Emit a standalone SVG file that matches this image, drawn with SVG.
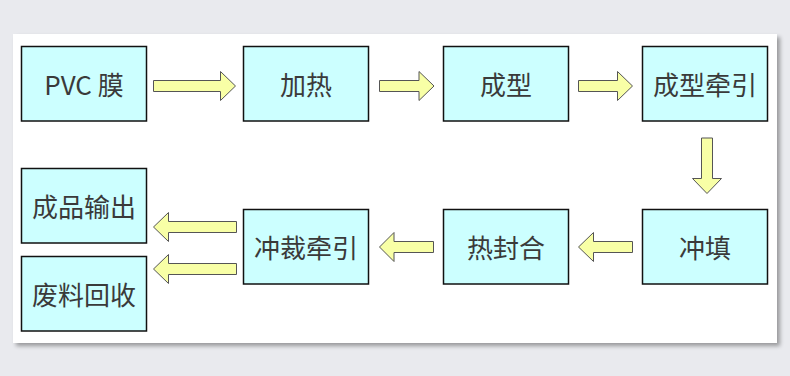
<svg xmlns="http://www.w3.org/2000/svg" width="790" height="376" viewBox="0 0 790 376">
<defs>
<style>
.box{fill:#ccffff;stroke:#111;stroke-width:1.5}
.t{font-family:"Noto Sans CJK SC","Microsoft YaHei",sans-serif;font-size:26px;fill:#3a3a3a;text-anchor:middle;dominant-baseline:central}
.ar{fill:#f8ffa6;stroke:#555;stroke-width:1}
</style>
<filter id="sh" x="-5%" y="-5%" width="112%" height="115%">
<feGaussianBlur in="SourceAlpha" stdDeviation="2"/>
<feOffset dx="3" dy="3"/>
<feComponentTransfer><feFuncA type="linear" slope="0.35"/></feComponentTransfer>
<feMerge><feMergeNode/><feMergeNode in="SourceGraphic"/></feMerge>
</filter>
</defs>
<rect x="0" y="0" width="790" height="376" fill="#e9eaee"/>
<rect x="13" y="34" width="764" height="309" fill="#ffffff" filter="url(#sh)"/>
<g id="connectors">
<path class="ar" d="M153.5,80.5 H220.5 V71.5 L235.5,86 L220.5,100.5 V91.5 H153.5 Z"/>
<path class="ar" d="M379.5,80.5 H419 V71.5 L434,86 L419,100.5 V91.5 H379.5 Z"/>
<path class="ar" d="M578.5,80.5 H617.5 V71.5 L632.5,86 L617.5,100.5 V91.5 H578.5 Z"/>
<path class="ar" d="M701.5,138 V178.5 H692.5 L707,193.5 L721.5,178.5 H712.5 V138 Z"/>
<path class="ar" d="M632.5,241.5 H593.5 V232.5 L578.5,247 L593.5,261.5 V252.5 H632.5 Z"/>
<path class="ar" d="M433.5,241.5 H394 V232.5 L379.5,247 L394,261.5 V252.5 H433.5 Z"/>
<path class="ar" d="M236.5,221.5 H168.5 V212.5 L153.5,227 L168.5,241.5 V232.5 H236.5 Z"/>
<path class="ar" d="M236.5,263.5 H168.5 V254.5 L153.5,269 L168.5,283.5 V274.5 H236.5 Z"/>
</g>
<g id="n1"><rect class="box" x="21.5" y="46.5" width="125" height="74.5"/><text class="t" x="84" y="83.5">PVC 膜</text></g>
<g id="n2"><rect class="box" x="243.5" y="46.5" width="125" height="74.5"/><text class="t" x="306" y="83.5">加热</text></g>
<g id="n3"><rect class="box" x="443.5" y="46.5" width="125" height="74.5"/><text class="t" x="506" y="83.5">成型</text></g>
<g id="n4"><rect class="box" x="642.5" y="46.5" width="125" height="74.5"/><text class="t" x="705" y="83.5">成型牵引</text></g>
<g id="n5"><rect class="box" x="642.5" y="209.5" width="125" height="74.5"/><text class="t" x="705" y="246.5">冲填</text></g>
<g id="n6"><rect class="box" x="443.5" y="209.5" width="125" height="74.5"/><text class="t" x="506" y="246.5">热封合</text></g>
<g id="n7"><rect class="box" x="243.5" y="209.5" width="125" height="74.5"/><text class="t" x="306" y="246.5">冲裁牵引</text></g>
<g id="n8"><rect class="box" x="21.5" y="168.5" width="125" height="74.5"/><text class="t" x="84" y="205.5">成品输出</text></g>
<g id="n9"><rect class="box" x="21.5" y="256.5" width="125" height="74.5"/><text class="t" x="84" y="293.5">废料回收</text></g>
</svg>
